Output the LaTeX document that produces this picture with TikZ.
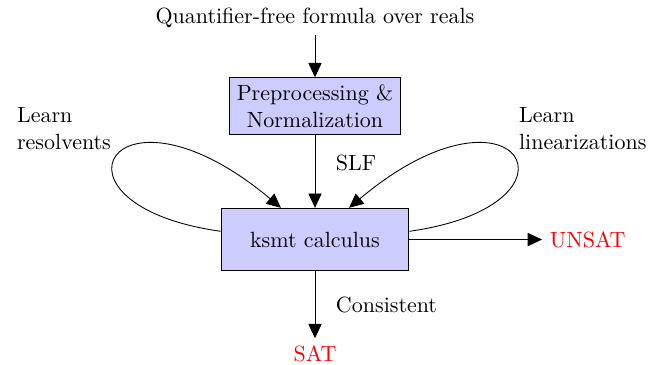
\documentclass[tikz,border=0pt]{standalone}
\usepackage{tikz}
\usetikzlibrary{arrows.meta,positioning}

\begin{document}
\begin{tikzpicture}[
		node distance=1cm and 1cm,
		proc/.style={draw,fill=blue!20,align=center},
		note/.style={align=left},
		res/.style={text=red},
		arr/.style={-{Triangle[length=6.5pt,width=6pt]}}
		]
		\node (in) {Quantifier-free formula over reals};
		\node[proc] (pre) [below=0.67cm of in] {Preprocessing \&\\ Normalization};
		\node[proc,minimum width=3cm,minimum height=1cm] (ksmt) [below=1.16cm of pre] {ksmt calculus};
		\node[res] (sat) [below=1.07cm of ksmt] {SAT};
		\node[res] (unsat) [right=2.12cm of ksmt] {UNSAT};
		\node[note] (lres) [above left=0.81cm and 1.63cm of ksmt] {Learn\\resolvents};
		\node[note] (llin) [above right=0.81cm and 1.63cm of ksmt] {Learn\\linearizations};
		\draw[arr] (in)--(pre);
		\draw[arr] (pre)-- node[right=6pt,pos=0.38]{SLF} (ksmt);
		\draw[arr] (ksmt)-- node[right=6pt]{Consistent} (sat);
		\draw[arr] (ksmt)--(unsat);
		% learning loops
		\draw[arr] (ksmt.175) .. controls +(172:86pt) and +(140:100pt) .. (ksmt.137);
		\draw[arr] (ksmt.5) .. controls +(8:86pt) and +(40:100pt) .. (ksmt.43);
		\pgfresetboundingbox
		\path[use as bounding box] ([shift={(-143.2pt,-57pt)}]ksmt.center) rectangle ([shift={(153.2pt,108.9pt)}]ksmt.center);
	\end{tikzpicture}
\end{document}
